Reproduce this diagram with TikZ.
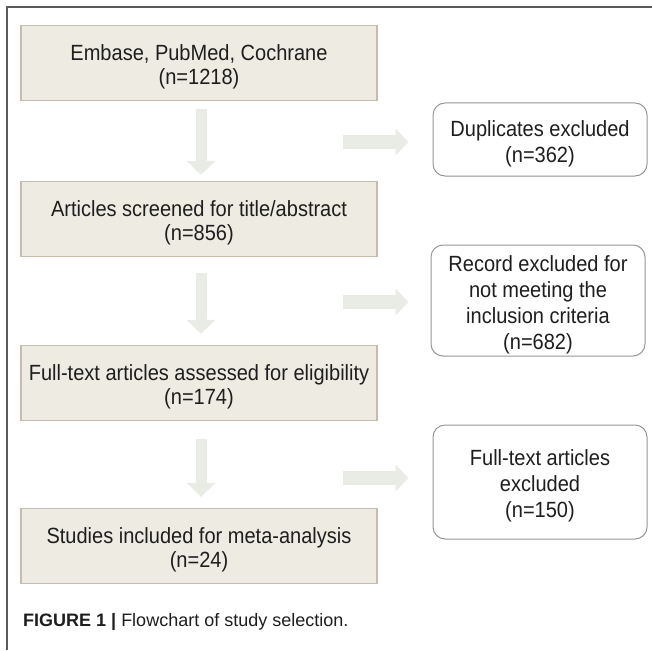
\documentclass[tikz,border=0pt]{standalone}
\usepackage{fontspec}
\setmainfont{Liberation Sans}
\newfontfamily\boxfont[FakeStretch=0.91]{Liberation Sans}
\usetikzlibrary{arrows.meta}
\definecolor{boxfill}{RGB}{238,235,227}
\definecolor{boxline}{RGB}{196,188,172}
\definecolor{arrowfill}{RGB}{233,236,228}
\definecolor{roundline}{RGB}{150,150,150}
\definecolor{framegray}{RGB}{90,90,90}
\definecolor{textgray}{RGB}{30,30,30}
\newcommand{\dropline}{\rule{0pt}{24pt}}
\begin{document}
\begin{tikzpicture}[x=1pt, y=-1pt,
  stage/.style={draw=boxline, line width=1.2pt, fill=boxfill, minimum width=356pt,
    minimum height=75pt, align=center, text=textgray, inner sep=0pt,
    font=\boxfont\fontsize{22}{24}\selectfont},
  excl/.style={draw=roundline, line width=1pt, rounded corners=12pt, fill=white,
    minimum width=214pt, align=center, text=textgray, inner sep=0pt,
    font=\boxfont\fontsize{22}{26}\selectfont},
  flow/.style={arrowfill, line width=11pt, -{Triangle[width=28pt, length=14pt]}},
  side/.style={arrowfill, line width=14pt, -{Triangle[width=26pt, length=13pt]}}]
\useasboundingbox (0,0) rectangle (652,650);
\draw[framegray, line width=2pt] (7,650) -- (7,7) -- (652,7);

\node[stage] (db) at (199,63) {\dropline Embase, PubMed, Cochrane\\(n=1218)};
\node[stage] (screen) at (199,219) {\dropline Articles screened for title/abstract\\(n=856)};
\node[stage] (full) at (199,383) {\dropline Full-text articles assessed for eligibility\\(n=174)};
\node[stage] (incl) at (199,546) {\dropline Studies included for meta-analysis\\(n=24)};

\node[excl, minimum height=73pt] (dup) at (540,139.5) {\dropline Duplicates excluded\\(n=362)};
\node[excl, minimum height=111pt] (rec) at (538,300.5) {\dropline Record excluded for\\not meeting the\\inclusion criteria\\(n=682)};
\node[excl, minimum height=114pt] (fte) at (540,482) {\dropline Full-text articles\\excluded\\(n=150)};

% down the main line
\draw[flow] ([xshift=2pt,yshift=-8pt]db.south) -- ([xshift=2pt,yshift=6pt]screen.north);
\draw[flow] ([xshift=2pt,yshift=-16pt]screen.south) -- ([xshift=2pt,yshift=11pt]full.north);
\draw[flow] ([xshift=2pt,yshift=-18pt]full.south) -- ([xshift=2pt,yshift=11pt]incl.north);

% out to the exclusions
\coordinate (s1) at (343,142);
\coordinate (s2) at (343,302);
\coordinate (s3) at (343,478);
\draw[side, shorten >=24pt] (s1) -- (s1 -| dup.west);
\draw[side, shorten >=22pt] (s2) -- (s2 -| rec.west);
\draw[side, shorten >=24pt] (s3) -- (s3 -| fte.west);

\node[anchor=base west, inner sep=0pt, text=textgray, font=\fontsize{18}{22}\selectfont]
  (cap) at (23,626) {\textbf{FIGURE 1} \textbf{|} Flowchart of study selection.};
\end{tikzpicture}
\end{document}
